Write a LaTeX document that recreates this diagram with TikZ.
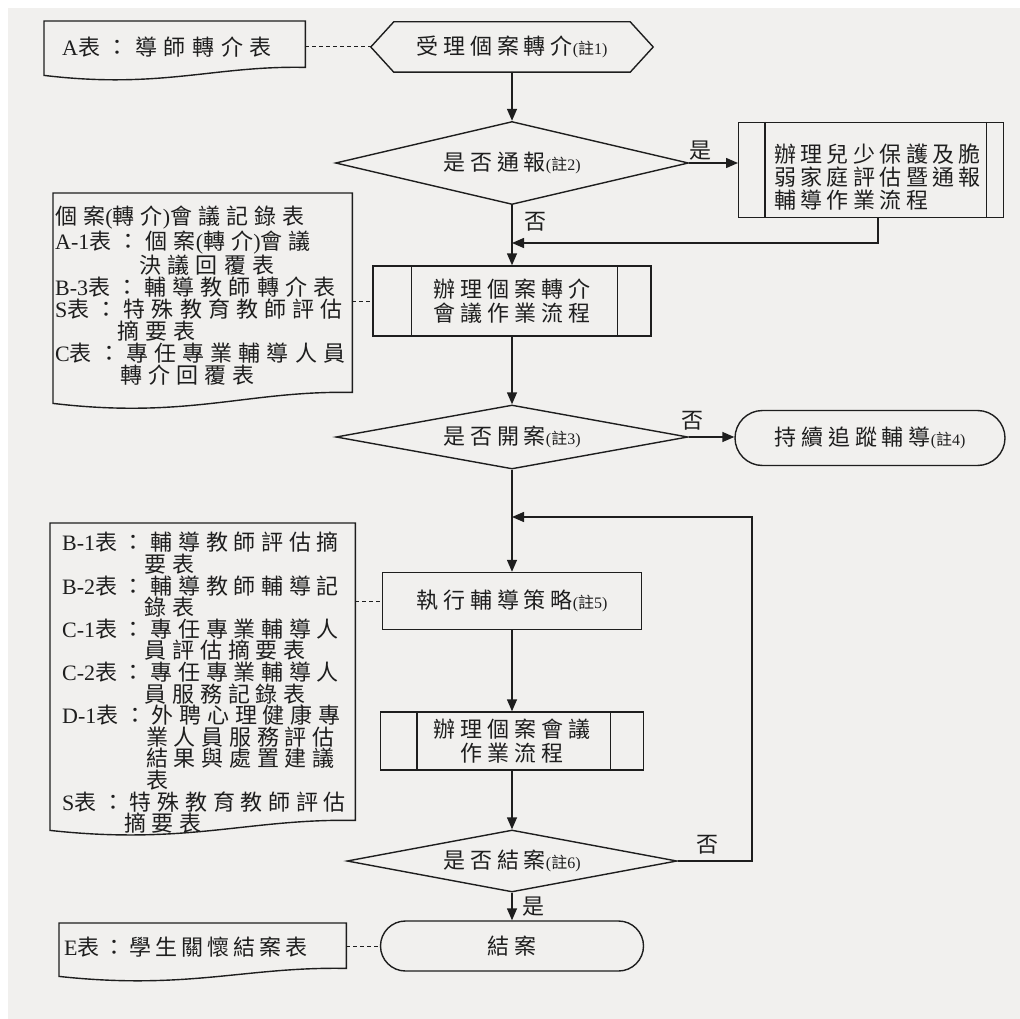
\documentclass[tikz,border=0pt]{standalone}
\usepackage{fontspec}
\setmainfont{Noto Sans CJK TC}[LetterSpace=22]
\newfontfamily\latinfont{Liberation Serif}
\usetikzlibrary{arrows.meta,shapes.geometric,shapes.misc,calc}
\definecolor{paper}{HTML}{F1F0EE}
\definecolor{ink}{HTML}{1E1E1E}
\newcommand\lt[1]{{\latinfont #1}}
\newcommand\zhu[1]{{\fontsize{16}{16}\selectfont\lt{(}註\lt{#1)}}}
\tikzset{
  lineS/.style={draw=ink, line width=1.4pt},
  flow/.style={lineS, -{Triangle[length=12pt,width=10pt]}},
  dashlink/.style={draw=ink, line width=1pt, dash pattern=on 4pt off 3pt},
  holder/.style={draw=none, inner sep=0pt},
  box/.style={lineS, fill=paper, inner sep=0pt, align=center},
  dia/.style={diamond, aspect=4, lineS, fill=paper, inner sep=0pt},
  stad/.style={rounded rectangle, lineS, fill=paper, inner sep=0pt},
  txt/.style={inner sep=0pt, text=ink},
  doctext/.style={txt, align=left, anchor=north west, font=\fontsize{22}{22}\selectfont\addfontfeature{LetterSpace=28}},
}
\begin{document}
\begin{tikzpicture}[x=1pt,y=-1pt, font=\fontsize{22}{24}\selectfont, every node/.append style={text=ink}]
\fill[white] (0,0) rectangle (1020,1019);
\fill[paper] (8,8) rectangle (1020,1019);
\useasboundingbox (0,0) rectangle (1020,1019);

% ---- A doc
\node[holder, minimum width=261pt, minimum height=46pt, anchor=north west] (A) at (44,21) {};
\draw[lineS] ($(A.south west)+(0,8)$) .. controls +(117,14) and +(-91,-2) .. (A.south east) -- (A.north east) -- (A.north west) -- cycle;
\node[txt, anchor=west] (At) at (62,47) {\addfontfeature{LetterSpace=30}\lt{A}表：導師轉介表};

% ---- hexagon
\node[holder, minimum width=282pt, minimum height=50pt] (H) at (512,47) {受理個案轉介\zhu{1}};
\draw[lineS] (H.west) -- ($(H.north west)+(23,0)$) -- ($(H.north east)+(-23,0)$) -- (H.east) -- ($(H.south east)+(-23,0)$) -- ($(H.south west)+(23,0)$) -- cycle;
\draw[dashlink] (H.west -| A.east) -- (H.west);

% ---- diamond 1
\node[dia, minimum width=353pt, minimum height=83pt] (D1) at (512,163) {是否通報\zhu{2}};
\draw[flow] (H.south) -- (D1.north);

% ---- right process box
\node[box, minimum width=265pt, minimum height=95pt, anchor=north west] (R1) at (738,122) {};
\draw[lineS] ($(R1.north west)+(27,0)$) -- ($(R1.south west)+(27,0)$);
\draw[lineS] ($(R1.north east)+(-18,0)$) -- ($(R1.south east)+(-18,0)$);
\node[txt, align=left, anchor=west, font=\fontsize{22}{23}\selectfont\addfontfeature{LetterSpace=20}] (R1t) at (774,177) {辦理兒少保護及脆\\弱家庭評估暨通報\\輔導作業流程};
\draw[flow] (D1.east) -- (D1.east -| R1.west);
\node[txt] (yes1) at (700,151) {是};
\coordinate (J1) at (512,243);
\draw[flow] ($(R1.south west)+(140,0)$) |- (J1);
\node[txt] (no1) at (535,222) {否};

% ---- process box 2
\node[box, minimum width=278pt, minimum height=70pt] (B2) at (512,301) {辦理個案轉介\\會議作業流程};
\draw[lineS] ($(B2.north west)+(39,0)$) -- ($(B2.south west)+(39,0)$);
\draw[lineS] ($(B2.north east)+(-34,0)$) -- ($(B2.south east)+(-34,0)$);
\draw[flow] (D1.south) -- (B2.north);

% ---- doc 2
\node[holder, minimum width=299pt, minimum height=199pt, anchor=north west] (C2) at (53,193) {};
\draw[lineS] ($(C2.south west)+(0,11)$) .. controls +(135,16) and +(-105,-2) .. (C2.south east) -- (C2.north east) -- (C2.north west) -- cycle;
\node[doctext] (C2t) at (55,206) {個案\lt{(}轉介\lt{)}會議記錄表\\
\lt{A-1}表：個案\lt{(}轉介\lt{)}會議\\
\phantom{\lt{A-1}表：}決議回覆表\\
\lt{B-3}表：輔導教師轉介表\\
\lt{S}表：特殊教育教師評估\\
\phantom{\lt{S}表：}摘要表\\
\lt{C}表：專任專業輔導人員\\
\phantom{\lt{C}表：}轉介回覆表};
\draw[dashlink] (B2.west -| C2.east) -- (B2.west);

% ---- diamond 2
\node[dia, minimum width=352pt, minimum height=64pt] (D2) at (512,437) {是否開案\zhu{3}};
\draw[flow] (B2.south) -- (D2.north);
\node[stad, minimum width=270pt, minimum height=55pt] (S1) at (870,438) {持續追蹤輔導\zhu{4}};
\draw[flow] (D2.east) -- (D2.east -| S1.west);
\node[txt] (no2) at (692,421) {否};

% ---- execute box
\node[box, minimum width=259pt, minimum height=57pt] (E) at (512,601) {執行輔導策略\zhu{5}};
\draw[flow] (D2.south) -- (E.north);

% ---- doc 3
\node[holder, minimum width=305pt, minimum height=297pt, anchor=north west] (C3) at (50,523) {};
\draw[lineS] ($(C3.south west)+(0,10)$) .. controls +(137,15) and +(-107,-2) .. (C3.south east) -- (C3.north east) -- (C3.north west) -- cycle;
\node[doctext, font=\fontsize{22}{21.6}\selectfont\addfontfeature{LetterSpace=26}] (C3t) at (62,532) {\lt{B-1}表：輔導教師評估摘\\
\phantom{\lt{B-1}表：}要表\\
\lt{B-2}表：輔導教師輔導記\\
\phantom{\lt{B-2}表：}錄表\\
\lt{C-1}表：專任專業輔導人\\
\phantom{\lt{C-1}表：}員評估摘要表\\
\lt{C-2}表：專任專業輔導人\\
\phantom{\lt{C-2}表：}員服務記錄表\\
\lt{D-1}表：外聘心理健康專\\
\phantom{\lt{D-1}表：}業人員服務評估\\
\phantom{\lt{D-1}表：}結果與處置建議\\
\phantom{\lt{D-1}表：}表\\
\lt{S}表：特殊教育教師評估\\
\phantom{\lt{S}表：}摘要表};
\draw[dashlink] (E.west -| C3.east) -- (E.west);

% ---- meeting box
\node[box, minimum width=263pt, minimum height=58pt] (M) at (512,741) {辦理個案會議\\作業流程};
\draw[lineS] ($(M.north west)+(37,0)$) -- ($(M.south west)+(37,0)$);
\draw[lineS] ($(M.north east)+(-34,0)$) -- ($(M.south east)+(-34,0)$);
\draw[flow] (E.south) -- (M.north);

% ---- diamond 3
\node[dia, minimum width=330pt, minimum height=62pt] (D3) at (512,861) {是否結案\zhu{6}};
\draw[flow] (M.south) -- (D3.north);
\coordinate (J2) at (512,517);
\coordinate (L1) at (752,517);
\draw[flow] (D3.east) -| (L1) -- (J2);
\node[txt] (no3) at (707,845) {否};

% ---- end
\node[stad, minimum width=263pt, minimum height=50pt] (End) at (512,946) {結案};
\draw[flow] (D3.south) -- (End.north);
\node[txt] (yes3) at (533,907) {是};

% ---- E doc
\node[holder, minimum width=287pt, minimum height=45pt, anchor=north west] (Ed) at (59,923) {};
\draw[lineS] ($(Ed.south west)+(0,8)$) .. controls +(129,14) and +(-100,-2) .. (Ed.south east) -- (Ed.north east) -- (Ed.north west) -- cycle;
\node[txt, anchor=west] (Edt) at (64,947) {\addfontfeature{LetterSpace=18}\lt{E}表：學生關懷結案表};
\draw[dashlink] (End.west -| Ed.east) -- (End.west);
\end{tikzpicture}
\end{document}
